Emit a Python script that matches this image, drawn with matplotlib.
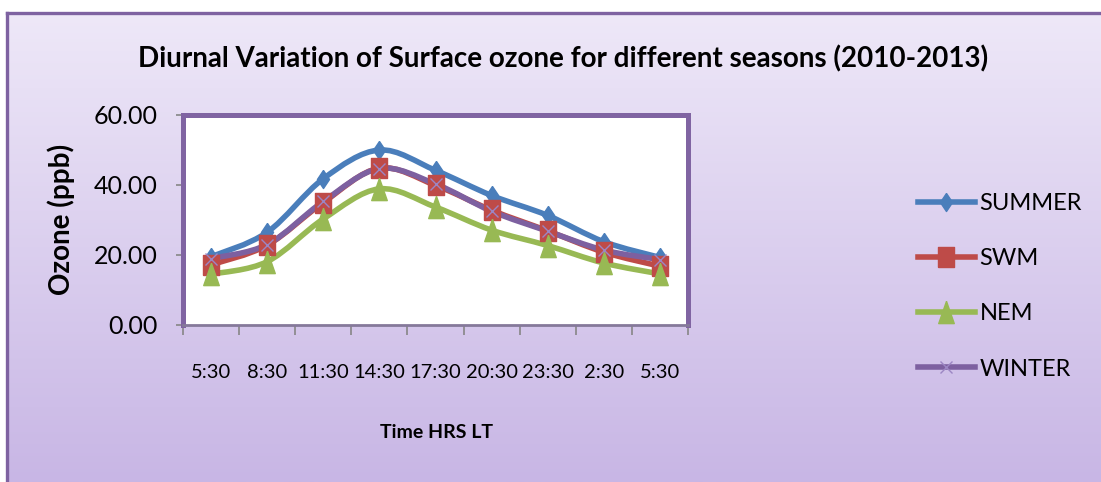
import numpy as np
import matplotlib
matplotlib.use("Agg")
import matplotlib.pyplot as plt
from matplotlib.path import Path
from matplotlib.patches import PathPatch
from matplotlib.lines import Line2D
from matplotlib.colors import LinearSegmentedColormap
from matplotlib import font_manager

times = ["5:30", "8:30", "11:30", "14:30", "17:30", "20:30", "23:30", "2:30", "5:30"]
summer = [19.5, 26.5, 41.8, 50.0, 44.2, 37.0, 31.3, 23.8, 19.3]
swm = [17.2, 22.8, 35.0, 44.8, 39.9, 32.8, 26.9, 20.8, 16.8]
nem = [14.5, 18.1, 30.3, 38.9, 33.7, 27.1, 22.7, 17.7, 14.6]
winter = [19.0, 23.0, 35.3, 44.7, 40.3, 32.5, 26.8, 21.4, 18.7]

W, H = 1101, 482
PURPLE = "#8064A2"


def pick_font(names):
    for n in names:
        try:
            font_manager.findfont(n, fallback_to_default=False)
            return n
        except ValueError:
            pass
    return "DejaVu Sans"


plt.rcParams["font.family"] = pick_font(["Liberation Sans Narrow", "Lato", "Open Sans"])


def smooth_path(xs, ys):
    # excel-like smoothed line (catmull-rom as cubic bezier)
    pts = np.column_stack([xs, ys]).astype(float)
    n = len(pts)
    verts = [pts[0]]
    codes = [Path.MOVETO]
    for i in range(n - 1):
        p0 = pts[max(i - 1, 0)]
        p1 = pts[i]
        p2 = pts[i + 1]
        p3 = pts[min(i + 2, n - 1)]
        verts += [p1 + (p2 - p0) / 6, p2 - (p3 - p1) / 6, p2]
        codes += [Path.CURVE4] * 3
    return Path(verts, codes)


# custom markers, a bit taller than wide like the source
diamond = [(0, 1), (0.67, 0), (0, -1), (-0.67, 0), (0, 1)]
square = [(-0.75, -1), (0.75, -1), (0.75, 1), (-0.75, 1), (-0.75, -1)]
triangle = [(0, 1), (0.7, -1), (-0.7, -1), (0, 1)]

series = [
    ("SUMMER", summer, "#4A7EBB", dict(marker=diamond, markersize=13)),
    ("SWM", swm, "#BE4B48", dict(marker=square, markersize=14.5)),
    ("NEM", nem, "#98B954", dict(marker=triangle, markersize=16)),
    ("WINTER", winter, "#7D60A0", dict(marker="x", markersize=8, markeredgewidth=1.0,
                                        markeredgecolor="#9C86C4")),
]

fig = plt.figure(figsize=(W / 100, H / 100), dpi=100)
fig.patch.set_facecolor("white")

# gradient background with purple border on top/left
bg = fig.add_axes([7 / W, 0, 1 - 7 / W, (H - 13) / H])
cmap = LinearSegmentedColormap.from_list("bg", ["#C8B6E5", "#EEE8F8"])
bg.imshow(np.linspace(0, 1, 256).reshape(-1, 1)[::-1], aspect="auto", cmap=cmap,
          extent=[0, 1, 0, 1])
bg.set_xticks([])
bg.set_yticks([])
for s in ["right", "bottom"]:
    bg.spines[s].set_visible(False)
for s in ["top", "left"]:
    bg.spines[s].set_color("#7E62A1")
    bg.spines[s].set_linewidth(2.4)

ax = fig.add_axes([183 / W, 1 - 325 / H, (688 - 183) / W, (325 - 115) / H])
ax.set_facecolor("white")
x = np.arange(len(times))

handles = []
for name, vals, col, mk in series:
    ax.add_patch(PathPatch(smooth_path(x, vals), fill=False, edgecolor=col,
                           linewidth=4.0, capstyle="round", joinstyle="round"))
    kw = dict(markerfacecolor=col, markeredgecolor=col)
    kw.update(mk)
    ax.plot(x, vals, linestyle="none", **kw)
    handles.append(Line2D([], [], color=col, linewidth=4.0, label=name, **kw))

ax.set_xlim(-0.5, len(times) - 0.5)
ax.set_ylim(0, 60)

ax.set_yticks([0, 20, 40, 60])
ax.set_yticklabels([f"{v:.2f}" for v in [0, 20, 40, 60]])
ax.tick_params(axis="y", direction="out", length=5, width=1.2, color="#868686",
               labelsize=18, pad=13)

ax.set_xticks(np.arange(-0.5, len(times), 1.0))
ax.set_xticklabels([])
ax.set_xticks(x, minor=True)
ax.set_xticklabels(times, minor=True)
ax.tick_params(axis="x", which="major", direction="out", length=7, width=1.2,
               color="#868686")
ax.tick_params(axis="x", which="minor", length=0, labelsize=14.5, pad=28)

for s in ["top", "right", "left"]:
    ax.spines[s].set_color(PURPLE)
    ax.spines[s].set_linewidth(3.6)
ax.spines["bottom"].set_color("#85799A")
ax.spines["bottom"].set_linewidth(2.0)

fig.text(563 / W, 1 - 59 / H, "Diurnal Variation of Surface ozone for different seasons (2010-2013)",
         ha="center", va="center", fontsize=20, fontweight="bold")
fig.text(436 / W, 1 - 433 / H, "Time HRS LT", ha="center", va="center",
         fontsize=14, fontweight="bold")
fig.text(61 / W, 1 - 219 / H, "Ozone (ppb)", ha="center", va="center",
         rotation=90, fontsize=20, fontweight="bold")

fig.legend(handles=handles, loc="upper left", bbox_to_anchor=(918 / W, 1 - 193 / H),
           frameon=False, fontsize=17, handlelength=2.4, handletextpad=0.2,
           labelspacing=1.45, borderpad=0, borderaxespad=0)

fig.savefig("out.png", dpi=100)
